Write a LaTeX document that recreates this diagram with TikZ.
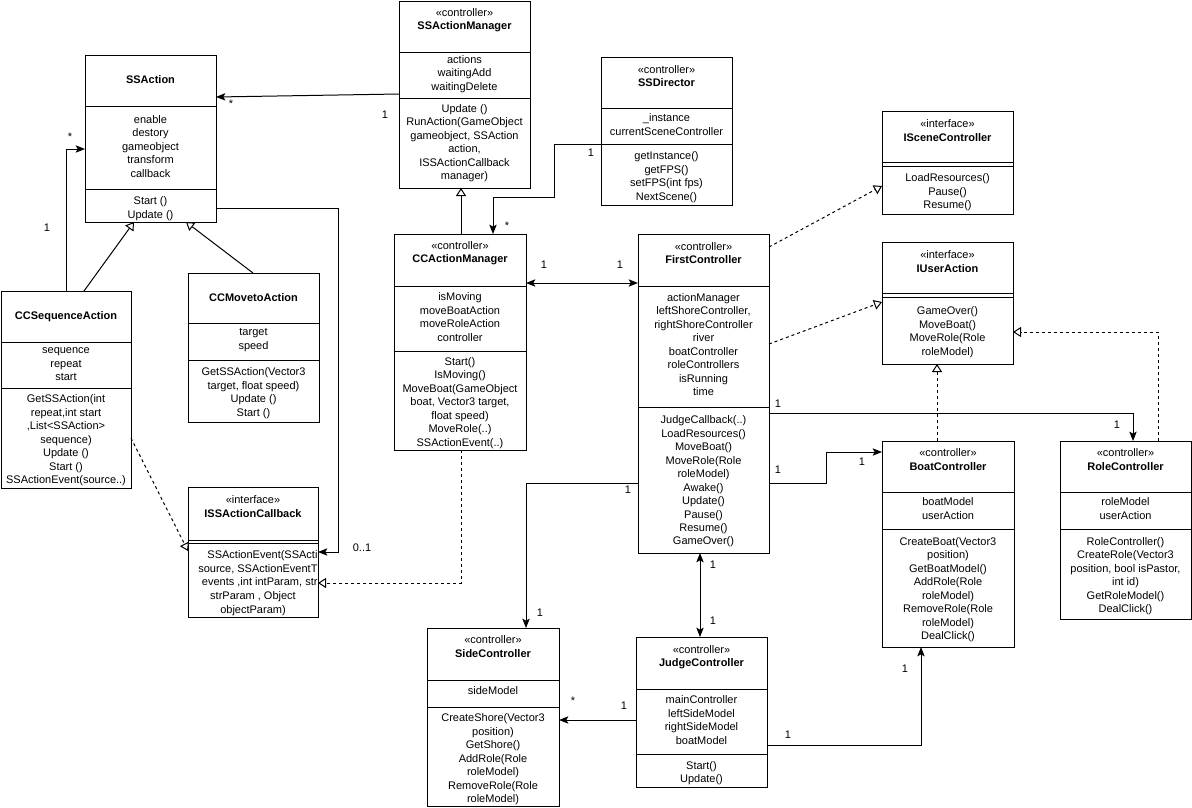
\documentclass[tikz,border=0pt]{standalone}
\usepackage{fontspec}
\setmainfont{Liberation Sans}
\usetikzlibrary{arrows.meta,fit}

\begin{document}
\begin{tikzpicture}[x=0.75pt, y=-0.75pt, line width=0.75pt,
    font=\fontsize{8.25}{10.1}\selectfont,
    box/.style={draw, inner sep=0pt, outer sep=0pt},
    txt/.style={align=center, inner sep=0pt},
    mult/.style={inner sep=0pt},
    assoc/.style={-{Stealth[length=7pt,width=5.5pt,inset=1.5pt]}},
    both/.style={{Stealth[length=7pt,width=5.5pt,inset=1.5pt]}-{Stealth[length=7pt,width=5.5pt,inset=1.5pt]}},
    inherit/.style={-{Triangle[open,length=6pt,width=7.5pt,fill=white]}},
    realize/.style={inherit, dash pattern=on 2.25pt off 2.25pt}]

    \useasboundingbox (0,0) rectangle (1192,807);

    % SSAction
    \node[box, fit={(85,55) (216,222)}] (ssa) {};
    \draw (ssa.west |- 0,106) -- (ssa.east |- 0,106);
    \draw (ssa.west |- 0,189) -- (ssa.east |- 0,189);
    \node[txt, font=\fontsize{8.25}{10.1}\selectfont\bfseries] (ssa-name) at (150.5,80) {SSAction};
    \node[txt] (ssa-attr) at (150.5,146.5) {enable\\destory\\gameobject\\transform\\callback};
    \node[txt] (ssa-ops) at (150.5,208.5) {Start ()\\Update ()};

    % SSActionManager
    \node[box, fit={(399,1) (530,188)}] (ssam) {};
    \draw (ssam.west |- 0,52) -- (ssam.east |- 0,52);
    \draw (ssam.west |- 0,98) -- (ssam.east |- 0,98);
    \node[txt] (ssam-name) at (464.5,20) {«controller»\\\textbf{SSActionManager}};
    \node[txt] (ssam-attr) at (464.5,74) {actions\\waitingAdd\\waitingDelete};
    \node[txt] (ssam-ops) at (464.5,143) {Update ()\\RunAction(GameObject\\gameobject, SSAction\\action,\\ISSActionCallback\\manager)};

    % SSDirector
    \node[box, fit={(601,57) (732,205)}] (ssd) {};
    \draw (ssd.west |- 0,108) -- (ssd.east |- 0,108);
    \draw (ssd.west |- 0,144) -- (ssd.east |- 0,144);
    \node[txt] (ssd-name) at (666.5,76) {«controller»\\\textbf{SSDirector}};
    \node[txt] (ssd-attr) at (666.5,124.5) {\_instance\\currentSceneController};
    \node[txt] (ssd-ops) at (666.5,177) {getInstance()\\getFPS()\\setFPS(int fps)\\NextScene()};

    % CCActionManager
    \node[box, fit={(394,234) (526,450)}] (ccam) {};
    \draw (ccam.west |- 0,286) -- (ccam.east |- 0,286);
    \draw (ccam.west |- 0,351) -- (ccam.east |- 0,351);
    \node[txt] (ccam-name) at (460,253) {«controller»\\\textbf{CCActionManager}};
    \node[txt] (ccam-attr) at (460,317) {isMoving\\moveBoatAction\\moveRoleAction\\controller};
    \node[txt] (ccam-ops) at (460,403) {Start()\\IsMoving()\\MoveBoat(GameObject\\boat, Vector3 target,\\float speed)\\MoveRole(..)\\SSActionEvent(..)};

    % FirstController
    \node[box, fit={(638,234) (769,553)}] (fc) {};
    \draw (fc.west |- 0,286) -- (fc.east |- 0,286);
    \draw (fc.west |- 0,407) -- (fc.east |- 0,407);
    \node[txt] (fc-name) at (703.5,253) {«controller»\\\textbf{FirstController}};
    \node[txt] (fc-attr) at (703.5,344.5) {actionManager\\leftShoreController,\\rightShoreController\\river\\boatController\\roleControllers\\isRunning\\time};
    \node[txt] (fc-ops) at (703.5,481.5) {JudgeCallback(..)\\LoadResources()\\MoveBoat()\\MoveRole(Role\\roleModel)\\Awake()\\Update()\\Pause()\\Resume()\\GameOver()};

    % ISceneController
    \node[box, fit={(882,111) (1013,214)}] (isc) {};
    \draw (isc.west |- 0,162) -- (isc.east |- 0,162);
    \draw (isc.west |- 0,166) -- (isc.east |- 0,166);
    \node[txt] (isc-name) at (947.5,130.5) {«interface»\\\textbf{ISceneController}};
    \node[txt] (isc-ops) at (947.5,192.5) {LoadResources()\\Pause()\\Resume()};

    % IUserAction
    \node[box, fit={(882,242) (1013,364)}] (iua) {};
    \draw (iua.west |- 0,293) -- (iua.east |- 0,293);
    \draw (iua.west |- 0,297) -- (iua.east |- 0,297);
    \node[txt] (iua-name) at (947.5,261.5) {«interface»\\\textbf{IUserAction}};
    \node[txt] (iua-ops) at (947.5,332) {GameOver()\\MoveBoat()\\MoveRole(Role\\roleModel)};

    % BoatController
    \node[box, fit={(882,441) (1014,647)}] (bc) {};
    \draw (bc.west |- 0,492) -- (bc.east |- 0,492);
    \draw (bc.west |- 0,529) -- (bc.east |- 0,529);
    \node[txt] (bc-name) at (948,459.5) {«controller»\\\textbf{BoatController}};
    \node[txt] (bc-attr) at (948,508.5) {boatModel\\userAction};
    \node[txt] (bc-ops) at (948,589.5) {CreateBoat(Vector3\\position)\\GetBoatModel()\\AddRole(Role\\roleModel)\\RemoveRole(Role\\roleModel)\\DealClick()};

    % RoleController
    \node[box, fit={(1060,441) (1191,619)}] (rc) {};
    \draw (rc.west |- 0,492) -- (rc.east |- 0,492);
    \draw (rc.west |- 0,529) -- (rc.east |- 0,529);
    \node[txt] (rc-name) at (1125.5,459.5) {«controller»\\\textbf{RoleController}};
    \node[txt] (rc-attr) at (1125.5,508.5) {roleModel\\userAction};
    \node[txt] (rc-ops) at (1125.5,576) {RoleController()\\CreateRole(Vector3\\position, bool isPastor,\\int id)\\GetRoleModel()\\DealClick()};

    % SideController
    \node[box, fit={(427,628) (559,806)}] (sc) {};
    \draw (sc.west |- 0,680) -- (sc.east |- 0,680);
    \draw (sc.west |- 0,707) -- (sc.east |- 0,707);
    \node[txt] (sc-name) at (493,646.5) {«controller»\\\textbf{SideController}};
    \node[txt] (sc-attr) at (493,691) {sideModel};
    \node[txt] (sc-ops) at (493,759.5) {CreateShore(Vector3\\position)\\GetShore()\\AddRole(Role\\roleModel)\\RemoveRole(Role\\roleModel)};

    % JudgeController
    \node[box, fit={(636,637) (767,787)}] (jc) {};
    \draw (jc.west |- 0,689) -- (jc.east |- 0,689);
    \draw (jc.west |- 0,754) -- (jc.east |- 0,754);
    \node[txt] (jc-name) at (701.5,657) {«controller»\\\textbf{JudgeController}};
    \node[txt] (jc-attr) at (701.5,720) {mainController\\leftSideModel\\rightSideModel\\boatModel};
    \node[txt] (jc-ops) at (701.5,773) {Start()\\Update()};

    % CCSequenceAction
    \node[box, fit={(1,291) (131,488)}] (ccseq) {};
    \draw (ccseq.west |- 0,342) -- (ccseq.east |- 0,342);
    \draw (ccseq.west |- 0,388) -- (ccseq.east |- 0,388);
    \node[txt, font=\fontsize{8.25}{10.1}\selectfont\bfseries] (ccseq-name) at (66,317) {CCSequenceAction};
    \node[txt] (ccseq-attr) at (66,364.5) {sequence\\repeat\\start};
    \node[txt] (ccseq-ops) at (66,440.5) {GetSSAction(int\\repeat,int start\\,List<SSAction>\\sequence)\\Update ()\\Start ()\\SSActionEvent(source..)};

    % CCMovetoAction
    \node[box, fit={(188,273) (319,422)}] (ccmove) {};
    \draw (ccmove.west |- 0,323) -- (ccmove.east |- 0,323);
    \draw (ccmove.west |- 0,360) -- (ccmove.east |- 0,360);
    \node[txt, font=\fontsize{8.25}{10.1}\selectfont\bfseries] (ccmove-name) at (253.5,298) {CCMovetoAction};
    \node[txt] (ccmove-attr) at (253.5,340) {target\\speed};
    \node[txt] (ccmove-ops) at (253.5,393) {GetSSAction(Vector3\\target, float speed)\\Update ()\\Start ()};

    % ISSActionCallback
    \node[box, fit={(188,487) (318,617)}] (issacb) {};
    \draw (issacb.west |- 0,540) -- (issacb.east |- 0,540);
    \draw (issacb.west |- 0,543) -- (issacb.east |- 0,543);
    \node[txt] (issacb-name) at (253,506.5) {«interface»\\\textbf{ISSActionCallback}};
    \node[inner sep=0pt, align=right, anchor=east] (issacb-ops) at (318,569) {SSActionEvent(SSActi\\source, SSActionEventT\\events ,int intParam, str};
    \node[txt] (issacb-ops2) at (253,603.5) {strParam , Object\\objectParam)};

    % connectors
    \draw[assoc] (ssam.west |- 0,94) -- (ssa.east |- 0,97);
    \node[mult] (m1) at (231,104) {*};
    \node[mult] (m2) at (385,115) {1};

    \draw[assoc] (ccseq.north) |- (ssa.west |- 0,149);
    \node[mult] (m3) at (70,137) {*};
    \node[mult] (m4) at (47,228) {1};

    \draw[inherit] (ccseq.north -| 84,0) -- (ssa.south -| 134,0);
    \draw[inherit] (ccmove.north -| 253,0) -- (ssa.south -| 186,0);

    \coordinate (cbk) at (338,552);
    \draw[assoc] (ssa.east |- 0,208) -| (cbk) -- (issacb.east |- cbk);
    \node[mult] (m5) at (362,548) {0..1};

    \draw[realize] (ccseq.east |- 0,438) -- (issacb.west |- 0,551);
    \draw[realize] (ccam.south -| 461,0) |- (issacb.east |- 0,583);
    \draw[inherit] (ccam.north -| 461,0) -- (ssam.south -| 461,0);

    \coordinate (dirbend) at (554,197);
    \draw[assoc] (ssd.west |- 0,144) -| (dirbend) -| (ccam.north -| 493,0);
    \node[mult] (m6) at (591,153) {1};
    \node[mult] (m7) at (507,226) {*};

    \draw[both] (ccam.east |- 0,283) -- (fc.west |- 0,283);
    \node[mult] (m8) at (544,265) {1};
    \node[mult] (m9) at (620,265) {1};

    \draw[realize] (fc.east |- 0,247) -- (isc.west |- 0,186);
    \draw[realize] (fc.east |- 0,344) -- (iua.west |- 0,302);

    \draw[assoc] (fc.east |- 0,413) -| (rc.north -| 1133,0);
    \node[mult] (m10) at (778,404) {1};
    \node[mult] (m11) at (1117,425) {1};

    \coordinate (boatbend) at (826,452);
    \draw[assoc] (fc.east |- 0,483) -| (boatbend) -- (bc.west |- boatbend);
    \node[mult] (m12) at (778,470) {1};
    \node[mult] (m13) at (862,462) {1};

    \draw[assoc] (fc.west |- 0,483) -| (sc.north -| 526,0);
    \node[mult] (m14) at (628,490) {1};
    \node[mult] (m15) at (540,613) {1};

    \draw[both] (jc.north -| 700,0) -- (fc.south -| 700,0);
    \node[mult] (m16) at (713,565) {1};
    \node[mult] (m17) at (713,621) {1};

    \draw[assoc] (jc.west |- 0,720) -- (sc.east |- 0,720);
    \node[mult] (m18) at (573,701) {*};
    \node[mult] (m19) at (624,706) {1};

    \draw[assoc] (jc.east |- 0,745) -| (bc.south -| 921,0);
    \node[mult] (m20) at (788,735) {1};
    \node[mult] (m21) at (905,669) {1};

    \draw[realize] (rc.north -| 1158,0) |- (iua.east |- 0,332);
    \draw[realize] (bc.north -| 937,0) -- (iua.south -| 937,0);
\end{tikzpicture}
\end{document}
